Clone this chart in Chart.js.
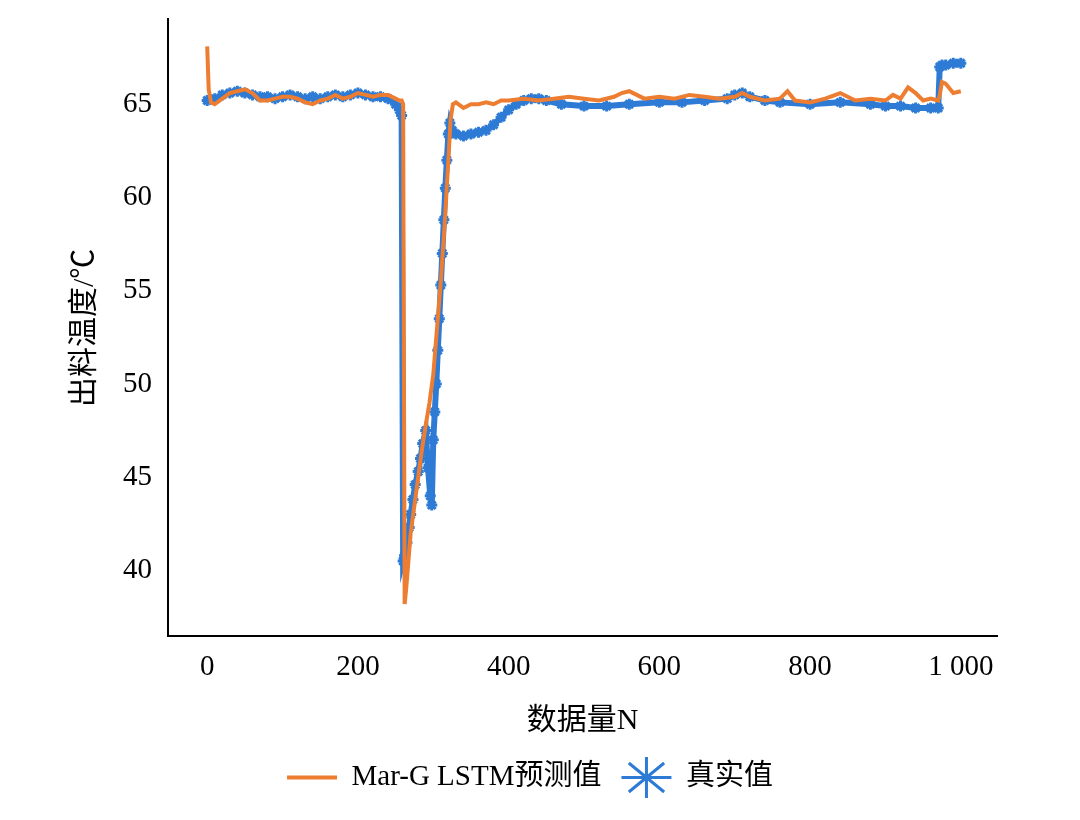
<!DOCTYPE html>
<html><head><meta charset="utf-8">
<script src="https://cdn.jsdelivr.net/npm/chart.js@4/dist/chart.umd.min.js"></script>
<style>html,body{margin:0;background:#fff;overflow:hidden}#w{width:1080px;height:834px;margin-top:-14px}</style>
</head><body><div id="w"><canvas id="c"></canvas></div>
<script>
const xTicks=[0,200,400,600,800,1000];
const yTicks=[40,45,50,55,60,65];
const truthX=[0,10,20,30,40,50,60,70,80,90,100,110,120,130,140,150,160,170,180,190,200,210,220,230,240,250,255,258,260,262,265,268,270,273,276,280,283,286,290,293,296,298,300,302,304,306,308,310,312,314,316,318,320,322,325,330,340,350,360,370,380,390,400,410,420,430,440,450,470,500,530,560,600,630,660,690,700,710,720,740,760,800,840,880,900,920,940,960,970,972,975,980,990,1000];
const truthY=[65.2,65.3,65.5,65.6,65.7,65.6,65.5,65.4,65.4,65.3,65.4,65.5,65.4,65.3,65.4,65.3,65.4,65.5,65.4,65.5,65.6,65.5,65.4,65.4,65.3,65.0,64.7,64.4,40.5,40.8,41.5,42.3,43.0,43.8,44.6,45.3,46.0,46.8,47.5,45.5,44.0,43.5,47.0,48.5,50.0,51.8,53.5,55.3,57.0,58.8,60.5,62.0,63.4,64.0,63.6,63.4,63.3,63.4,63.5,63.6,63.9,64.3,64.7,65.0,65.2,65.3,65.3,65.2,65.0,64.9,64.9,65.0,65.1,65.1,65.2,65.3,65.5,65.6,65.4,65.2,65.1,65.0,65.1,65.0,64.9,64.9,64.8,64.8,64.8,67.0,67.1,67.1,67.2,67.2];
const predX=[0,2,5,10,20,30,40,50,60,70,80,90,100,110,120,130,140,150,160,170,180,190,200,210,220,230,240,250,255,258,260,262,264,266,270,275,280,285,290,295,300,305,310,315,320,323,326,330,340,350,360,370,380,390,400,420,440,460,480,500,520,540,550,560,580,600,620,640,660,680,700,710,720,740,760,770,780,800,820,840,860,880,900,910,920,930,940,950,960,970,972,975,980,990,1000];
const predY=[68.1,65.8,65.1,65.0,65.3,65.6,65.7,65.8,65.6,65.2,65.2,65.3,65.4,65.4,65.3,65.1,65.0,65.2,65.3,65.5,65.3,65.4,65.6,65.5,65.4,65.5,65.5,65.3,65.2,65.2,65.0,38.2,39.0,40.0,42.0,43.5,45.0,46.5,47.8,49.0,50.5,53.0,55.5,58.5,62.0,64.2,65.0,65.1,64.8,65.0,65.0,65.1,65.0,65.2,65.2,65.3,65.2,65.3,65.4,65.3,65.2,65.4,65.6,65.7,65.3,65.4,65.3,65.5,65.4,65.3,65.4,65.6,65.4,65.2,65.3,65.7,65.2,65.1,65.3,65.6,65.2,65.3,65.2,65.5,65.3,65.9,65.6,65.2,65.3,65.2,65.5,66.2,66.1,65.6,65.7];
const pts=(xs,ys)=>xs.map((x,i)=>({x,y:ys[i]}));
const font="'Liberation Serif','Noto Sans CJK SC',serif";
new Chart(document.getElementById('c'),{
 type:'line',
 data:{datasets:[
  {label:'Mar-G LSTM预测值',data:pts(predX,predY),borderColor:'#ed7d31',backgroundColor:'#ed7d31',borderWidth:4,pointRadius:0,pointStyle:'line',tension:0},
  {label:'真实值',data:pts(truthX,truthY),borderColor:'#2e7bd6',backgroundColor:'#2e7bd6',borderWidth:6,pointRadius:5.5,pointStyle:'star',pointBorderWidth:3,tension:0}
 ]},
 options:{responsive:true,maintainAspectRatio:false,animation:false,
  layout:{padding:{left:63,right:83,top:6,bottom:18}},
  plugins:{legend:{position:'bottom',labels:{font:{family:font,size:29},color:'#000',usePointStyle:true,pointStyleWidth:50,padding:20}},tooltip:{enabled:false}},
  scales:{
   x:{type:'linear',min:-52,max:1048,afterBuildTicks:a=>{a.ticks=xTicks.map(v=>({value:v}));},
    grid:{display:false,drawTicks:false},border:{color:'#000',width:2},
    ticks:{color:'#000',font:{family:font,size:29},padding:14,callback:v=>v===1000?'1 000':v},
    title:{display:true,text:'数据量N',color:'#000',font:{family:font,size:30},padding:{top:4}}},
   y:{min:36.47,max:69.55,afterBuildTicks:a=>{a.ticks=yTicks.map(v=>({value:v}));},
    grid:{display:false,drawTicks:false},border:{color:'#000',width:2},
    ticks:{color:'#000',font:{family:font,size:29},padding:16},
    title:{display:true,text:'出料温度/℃',color:'#000',font:{family:font,size:30}}}
  }}
});
</script></body></html>
